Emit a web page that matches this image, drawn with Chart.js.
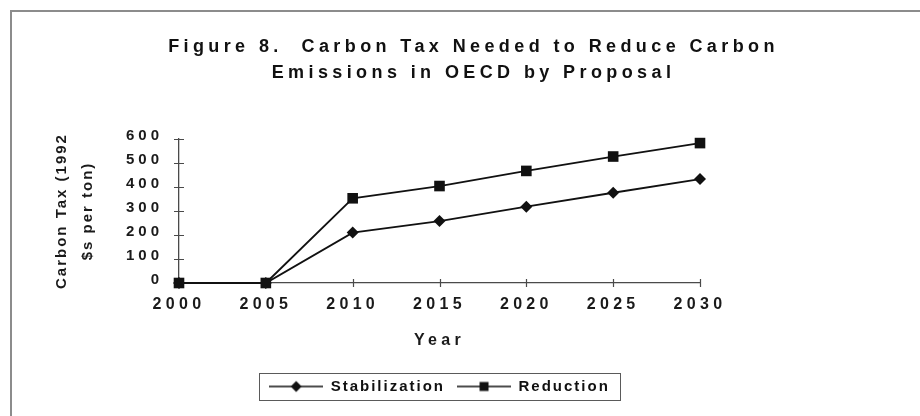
<!DOCTYPE html>
<html>
<head>
<meta charset="utf-8">
<title>Carbon Tax Needed to Reduce Carbon Emissions in OECD</title>
<script src="https://cdn.jsdelivr.net/npm/chart.js@4.4.1/dist/chart.umd.min.js"></script>
<style>
  html, body { margin: 0; padding: 0; background: #ffffff; }
  canvas { display: block; }
</style>
</head>
<body>
<canvas id="chart" width="920" height="416"></canvas>
<script>
// Years on the horizontal axis
const years = ['2000', '2005', '2010', '2015', '2020', '2025', '2030'];

// Carbon tax, 1992 dollars per ton
const stabilization = [0, 0, 210, 258, 318, 376, 433];
const reduction = [0, 0, 353, 404, 467, 527, 583];

const seriesNames = ['Stabilization', 'Reduction'];
const titleLines = ['Figure 8.  Carbon Tax Needed to Reduce Carbon', 'Emissions in OECD by Proposal'];
const yTitleLines = ['Carbon Tax (1992', '$s per ton)'];
const xTitle = 'Year';

const INK = '#111111';
const AXIS = '#4a4a4a';
const FRAME = '#8c8c8c';
const FONT = "'Liberation Sans', Arial, sans-serif";

Chart.defaults.font.family = FONT;
Chart.defaults.font.weight = 'bold';
Chart.defaults.color = '#1a1a1a';

// Small line-with-marker swatch used by the legend
function legendSymbol(style) {
  const c = document.createElement('canvas');
  c.width = 54;
  c.height = 14;
  const g = c.getContext('2d');
  g.strokeStyle = INK;
  g.fillStyle = INK;
  g.lineWidth = 1.5;
  g.beginPath();
  g.moveTo(0, 7);
  g.lineTo(54, 7);
  g.stroke();
  g.beginPath();
  if (style === 'rectRot') {
    g.moveTo(27, 1.5);
    g.lineTo(32.5, 7);
    g.lineTo(27, 12.5);
    g.lineTo(21.5, 7);
    g.closePath();
  } else {
    g.rect(22.5, 2.5, 9, 9);
  }
  g.fill();
  return c;
}

// Run a drawing/measuring method with extra letter spacing on the context
function withSpacing(target, method, px, around) {
  const original = target && target[method];
  if (!original || original.__spaced) return;
  const wrapped = function (...args) {
    const ctx = this.ctx;
    ctx.save();
    ctx.letterSpacing = px + 'px';
    const undo = around ? around(this) : null;
    try {
      return original.apply(this, args);
    } finally {
      if (undo) undo();
      ctx.restore();
    }
  };
  wrapped.__spaced = true;
  target[method] = wrapped;
}

const spacingPlugin = {
  id: 'spacing',
  beforeLayout(chart) {
    withSpacing(chart.legend, 'fit', 2);
    withSpacing(chart.legend, 'draw', 2);
    withSpacing(chart.titleBlock, 'draw', 4.4);
  },
  beforeDraw(chart) {
    const { x, y } = chart.scales;
    withSpacing(x, 'drawLabels', 4.3);
    withSpacing(x, 'drawTitle', 4.3);
    withSpacing(y, 'drawLabels', 4);
    // the rotated axis title is longer than the plot height; give it room
    withSpacing(y, 'drawTitle', 2, (s) => {
      const top = s.top, bottom = s.bottom;
      s.top -= 20;
      s.bottom += 20;
      return () => { s.top = top; s.bottom = bottom; };
    });
  }
};

// Page frame and white background
const framePlugin = {
  id: 'frame',
  beforeDraw(chart) {
    const { ctx, width, height } = chart;
    ctx.save();
    ctx.fillStyle = '#ffffff';
    ctx.fillRect(0, 0, width, height);
    ctx.strokeStyle = FRAME;
    ctx.lineWidth = 2;
    ctx.beginPath();
    ctx.moveTo(width, 11);
    ctx.lineTo(11, 11);
    ctx.lineTo(11, height);
    ctx.stroke();
    ctx.restore();
  }
};

// Tick marks that cross the axis lines
const crossTicksPlugin = {
  id: 'crossTicks',
  beforeDatasetsDraw(chart) {
    const { ctx, scales: { x, y } } = chart;
    ctx.save();
    ctx.strokeStyle = AXIS;
    ctx.lineWidth = 1.2;
    ctx.beginPath();
    x.ticks.forEach((t, i) => {
      const px = Math.round(x.getPixelForTick(i)) + 0.5;
      ctx.moveTo(px, y.bottom - 4);
      ctx.lineTo(px, y.bottom + 4);
    });
    y.ticks.forEach((t, i) => {
      const py = Math.round(y.getPixelForTick(i)) + 0.5;
      ctx.moveTo(x.left - 5, py);
      ctx.lineTo(x.left + 5, py);
    });
    ctx.stroke();
    ctx.restore();
  }
};

// Border around the legend entries
const legendBoxPlugin = {
  id: 'legendBox',
  afterDraw(chart) {
    const boxes = chart.legend && chart.legend.legendHitBoxes;
    if (!boxes || !boxes.length) return;
    const first = boxes[0];
    const last = boxes[boxes.length - 1];
    const left = Math.round(first.left - 10) + 0.5;
    const right = Math.round(last.left + last.width + 10) + 0.5;
    const top = Math.round(first.top - 6.5) + 0.5;
    const bottom = Math.round(first.top + first.height + 5.5) + 0.5;
    const { ctx } = chart;
    ctx.save();
    ctx.strokeStyle = '#5a5a5a';
    ctx.lineWidth = 1;
    ctx.strokeRect(left, top, right - left, bottom - top);
    ctx.restore();
  }
};

new Chart(document.getElementById('chart'), {
  type: 'line',
  data: {
    labels: years,
    datasets: [
      {
        label: seriesNames[0],
        data: stabilization,
        order: 1,
        clip: false,
        borderColor: INK,
        backgroundColor: INK,
        borderWidth: 1.8,
        pointStyle: 'rectRot',
        pointRadius: 6,
        pointBackgroundColor: INK,
        pointBorderColor: INK,
        pointBorderWidth: 0,
        tension: 0,
        fill: false
      },
      {
        label: seriesNames[1],
        data: reduction,
        order: 0,
        clip: false,
        borderColor: INK,
        backgroundColor: INK,
        borderWidth: 1.8,
        pointStyle: 'rect',
        pointRadius: 7.5,
        pointBackgroundColor: INK,
        pointBorderColor: INK,
        pointBorderWidth: 0,
        tension: 0,
        fill: false
      }
    ]
  },
  options: {
    responsive: false,
    animation: false,
    devicePixelRatio: 1,
    layout: { padding: { left: 40, right: 13, top: 0, bottom: 12 } },
    plugins: {
      tooltip: { enabled: false },
      title: {
        display: true,
        text: titleLines,
        color: INK,
        font: { size: 18, weight: 'bold', lineHeight: 26 / 18 },
        padding: { top: 34, bottom: 53 }
      },
      legend: {
        display: true,
        position: 'bottom',
        fullSize: false,
        labels: {
          usePointStyle: true,
          pointStyleWidth: 54,
          padding: 12,
          color: INK,
          font: { size: 15, weight: 'bold' },
          sort: (a, b) => a.datasetIndex - b.datasetIndex,
          generateLabels(chart) {
            const items = Chart.defaults.plugins.legend.labels.generateLabels(chart);
            items.forEach((item) => {
              const ds = chart.data.datasets[item.datasetIndex];
              item.pointStyle = legendSymbol(ds.pointStyle);
            });
            return items;
          }
        }
      }
    },
    scales: {
      x: {
        type: 'category',
        offset: false,
        afterFit(s) { s.height = 84; },
        grid: { display: true, drawOnChartArea: false, drawTicks: false },
        border: { display: true, color: AXIS, width: 1.3 },
        ticks: {
          autoSkip: false,
          maxRotation: 0,
          padding: 12,
          color: '#1a1a1a',
          font: { size: 16, weight: 'bold' }
        },
        title: {
          display: true,
          text: xTitle,
          color: '#1a1a1a',
          font: { size: 16, weight: 'bold' },
          padding: { top: 0, bottom: 17 }
        }
      },
      y: {
        type: 'linear',
        min: 0,
        max: 600,
        afterFit(s) { s.width = 139; },
        grid: { display: true, drawOnChartArea: false, drawTicks: false },
        border: { display: true, color: AXIS, width: 1.3 },
        ticks: {
          stepSize: 100,
          padding: 16,
          labelOffset: -3,
          color: '#1a1a1a',
          font: { size: 15, weight: 'bold' }
        },
        title: {
          display: true,
          text: yTitleLines,
          color: '#1a1a1a',
          font: { size: 15, weight: 'bold', lineHeight: 26 / 15 },
          padding: { top: 9, bottom: 0 }
        }
      },
      pad: {
        type: 'linear',
        position: 'right',
        display: true,
        afterFit(s) { s.width = 207; },
        grid: { display: false },
        border: { display: false },
        ticks: { display: false }
      }
    }
  },
  plugins: [framePlugin, spacingPlugin, crossTicksPlugin, legendBoxPlugin]
});
</script>
</body>
</html>
